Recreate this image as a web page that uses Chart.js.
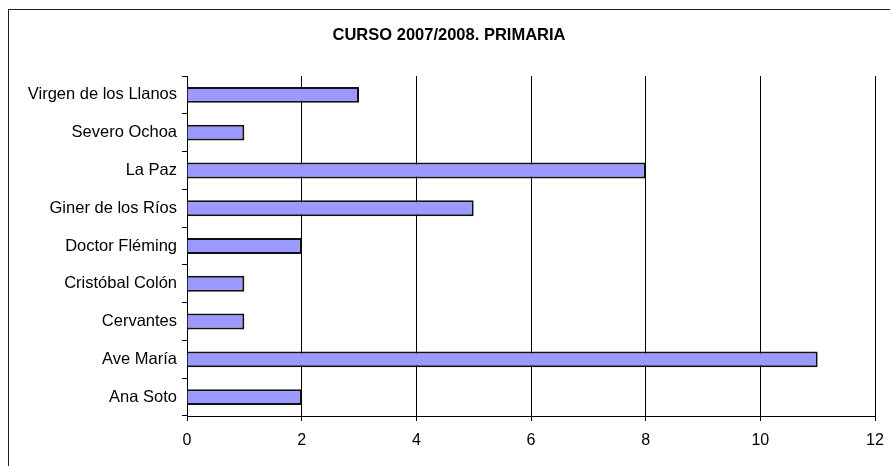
<!DOCTYPE html>
<html>
<head>
<meta charset="utf-8">
<script src="https://cdn.jsdelivr.net/npm/chart.js@4"></script>
<style>
  html, body { margin: 0; padding: 0; background: #fff; overflow: hidden; }
  #wrap { position: relative; width: 890px; height: 466px; }
  #frame { position: absolute; left: 8px; top: 9px; width: 1000px; height: 1000px; border: 1.5px solid #222; box-sizing: border-box; }
  canvas { position: absolute; left: 0; top: 0; }
</style>
</head>
<body>
<div id="wrap">
  <div id="frame"></div>
  <canvas id="chart" width="890" height="466"></canvas>
</div>
<script>
// schools, top to bottom as in the picture
const schools = ["Virgen de los Llanos", "Severo Ochoa", "La Paz", "Giner de los Ríos",
  "Doctor Fléming", "Cristóbal Colón", "Cervantes", "Ave María", "Ana Soto"]
const counts = [3, 1, 8, 5, 2, 1, 1, 11, 2]
const chartTitle = "CURSO 2007/2008. PRIMARIA"
const xMin = 0
const xMax = 12
const xStep = 2

Chart.defaults.font.family = "'Liberation Sans', Arial, sans-serif"
Chart.defaults.color = "#000"

const ctx = document.getElementById("chart").getContext("2d")

new Chart(ctx, {
  type: "bar",
  data: {
    labels: schools,
    datasets: [{
      data: counts,
      backgroundColor: "#9999ff",
      borderColor: "#111",
      borderWidth: 2,
      barPercentage: 0.42,
      categoryPercentage: 1
    }]
  },
  options: {
    indexAxis: "y",
    responsive: false,
    animation: false,
    layout: { padding: { left: 23, right: 15, top: 0, bottom: 0 } },
    plugins: {
      legend: { display: false },
      tooltip: { enabled: false },
      title: {
        display: true,
        text: chartTitle,
        color: "#000",
        font: { size: 16.5, weight: "bold" },
        padding: { top: 25.1, bottom: 31.1 }
      }
    },
    scales: {
      x: {
        min: xMin,
        max: xMax,
        ticks: { stepSize: xStep, font: { size: 16 }, padding: 10 },
        grid: { color: "#000", lineWidth: 1, tickLength: 5, drawOnChartArea: true },
        border: { display: true, color: "#000", width: 1 },
        afterFit: axis => {
          axis.height = 50
          // keep the plot width fixed, labels fit inside the layout padding
          axis.paddingLeft = 0
          axis.paddingRight = 0
        }
      },
      y: {
        offset: true,
        ticks: { font: { size: 16.5 }, padding: 5 },
        grid: { offset: true, color: "#000", lineWidth: 1, tickLength: 5, drawOnChartArea: false },
        border: { display: true, color: "#000", width: 1 },
        afterFit: axis => { axis.width = 164 }
      }
    }
  }
})
</script>
</body>
</html>
